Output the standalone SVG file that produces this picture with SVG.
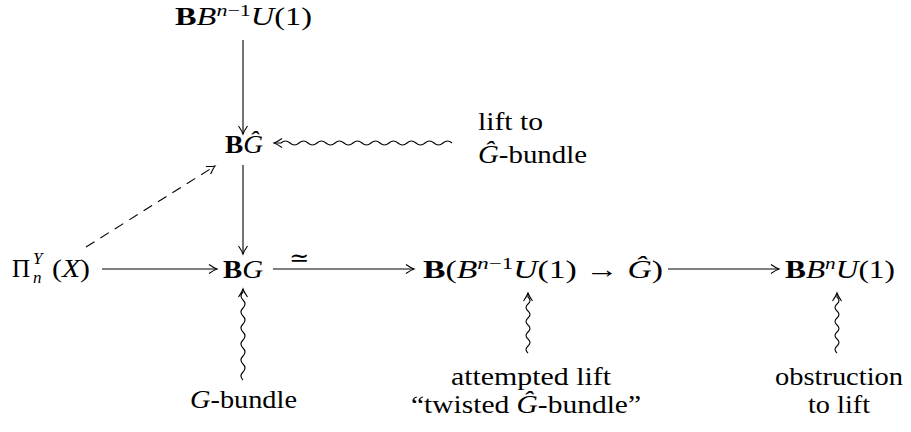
<svg xmlns="http://www.w3.org/2000/svg" width="911" height="432" viewBox="0 0 911 432" font-family="'Liberation Serif', 'Times New Roman', serif">
<style>
text{font-family:'Liberation Serif','Times New Roman',serif;font-size:25px;fill:#000}
.i{font-style:italic}
.b{font-weight:bold}
.s{font-size:17px}
.m{text-anchor:middle}
.c{fill:none;stroke:#000;stroke-width:1.1}
</style>
<defs>
<marker id="ah" viewBox="-10 -6 12 12" refX="0" refY="0" markerWidth="12" markerHeight="12" markerUnits="userSpaceOnUse" orient="auto">
<path d="M-8,-4.5 Q-3,-1 0,0 Q-3,1 -8,4.5" fill="none" stroke="#000" stroke-width="1.1"/>
</marker>
</defs>
<rect width="911" height="432" fill="#fff"/>
<g id="n_top"><text x="175" y="25" textLength="137" lengthAdjust="spacingAndGlyphs"><tspan class="b">B</tspan><tspan class="i">B</tspan><tspan class="s" dy="-9"><tspan class="i">n</tspan>−1</tspan><tspan class="i" dy="9">U</tspan>(1)</text></g>
<g id="n_BGhat"><text x="225" y="153" textLength="38" lengthAdjust="spacingAndGlyphs"><tspan class="b">B</tspan><tspan class="i">Ĝ</tspan></text></g>
<g id="n_Pi"><text x="12" y="277">Π</text><text class="s i" x="33" y="264">Y</text><text class="s i" x="33" y="283">n</text><text x="52" y="277" textLength="38" lengthAdjust="spacingAndGlyphs">(<tspan class="i">X</tspan>)</text></g>
<g id="n_BG"><text x="223" y="278" textLength="40" lengthAdjust="spacingAndGlyphs"><tspan class="b">B</tspan><tspan class="i">G</tspan></text></g>
<g id="n_mid"><text x="423" y="278" textLength="240" lengthAdjust="spacingAndGlyphs"><tspan class="b">B</tspan>(<tspan class="i">B</tspan><tspan class="s" dy="-9"><tspan class="i">n</tspan>−1</tspan><tspan class="i" dy="9">U</tspan>(1) → <tspan class="i">Ĝ</tspan>)</text></g>
<g id="n_right"><text x="785" y="278" textLength="110" lengthAdjust="spacingAndGlyphs"><tspan class="b">B</tspan><tspan class="i">B</tspan><tspan class="s i" dy="-9">n</tspan><tspan class="i" dy="9">U</tspan>(1)</text></g>
<g id="l_lift"><text x="478" y="130" textLength="65" lengthAdjust="spacingAndGlyphs">lift to</text><text x="478" y="163" textLength="109" lengthAdjust="spacingAndGlyphs"><tspan class="i">Ĝ</tspan>-bundle</text></g>
<g id="l_Gbundle"><text x="190" y="408" textLength="107" lengthAdjust="spacingAndGlyphs"><tspan class="i">G</tspan>-bundle</text></g>
<g id="l_attempt"><text class="m" x="531" y="385" textLength="160" lengthAdjust="spacingAndGlyphs">attempted lift</text><text class="m" x="526" y="413" textLength="230" lengthAdjust="spacingAndGlyphs">“twisted <tspan class="i">Ĝ</tspan>-bundle”</text></g>
<g id="l_obstr"><text class="m" x="839" y="385" textLength="128" lengthAdjust="spacingAndGlyphs">obstruction</text><text class="m" x="839" y="413" textLength="62" lengthAdjust="spacingAndGlyphs">to lift</text></g>
<g id="connectors">
<path class="c" d="M243,40 V134" marker-end="url(#ah)"/>
<path class="c" d="M243,165 V254" marker-end="url(#ah)"/>
<path class="c" d="M102,269 H217" marker-end="url(#ah)"/>
<path class="c" d="M273,269 H414" marker-end="url(#ah)"/>
<path class="c" d="M668,269 H779" marker-end="url(#ah)"/>
<text x="299" y="266" text-anchor="middle" style="font-family:'DejaVu Serif',serif;font-size:24px">≃</text>
<path class="c" d="M86,247 L215,166" stroke-dasharray="10 7" marker-end="url(#ah)"/>
<path class="c" d="M452,143 q-4.5,-4 -9,0 t-9,0 t-9,0 t-9,0 t-9,0 t-9,0 t-9,0 t-9,0 t-9,0 t-9,0 t-9,0 t-9,0 t-9,0 t-9,0 t-9,0 t-9,0 t-9,0 t-9,0 t-9,0 L274,143" marker-end="url(#ah)"/>
<path class="c" d="M243,380 q-4,-4 0,-8 t0,-8 t0,-8 t0,-8 t0,-8 t0,-8 t0,-8 t0,-8 t0,-8 t0,-8 t0,-8 L243,289" marker-end="url(#ah)"/>
<path class="c" d="M528,353 q-4,-3.5 0,-7 t0,-7 t0,-7 t0,-7 t0,-7 t0,-7 t0,-7 t0,-7 L528,293" marker-end="url(#ah)"/>
<path class="c" d="M837,353 q-4,-3.5 0,-7 t0,-7 t0,-7 t0,-7 t0,-7 t0,-7 t0,-7 t0,-7 L837,293" marker-end="url(#ah)"/>
</g>
</svg>
